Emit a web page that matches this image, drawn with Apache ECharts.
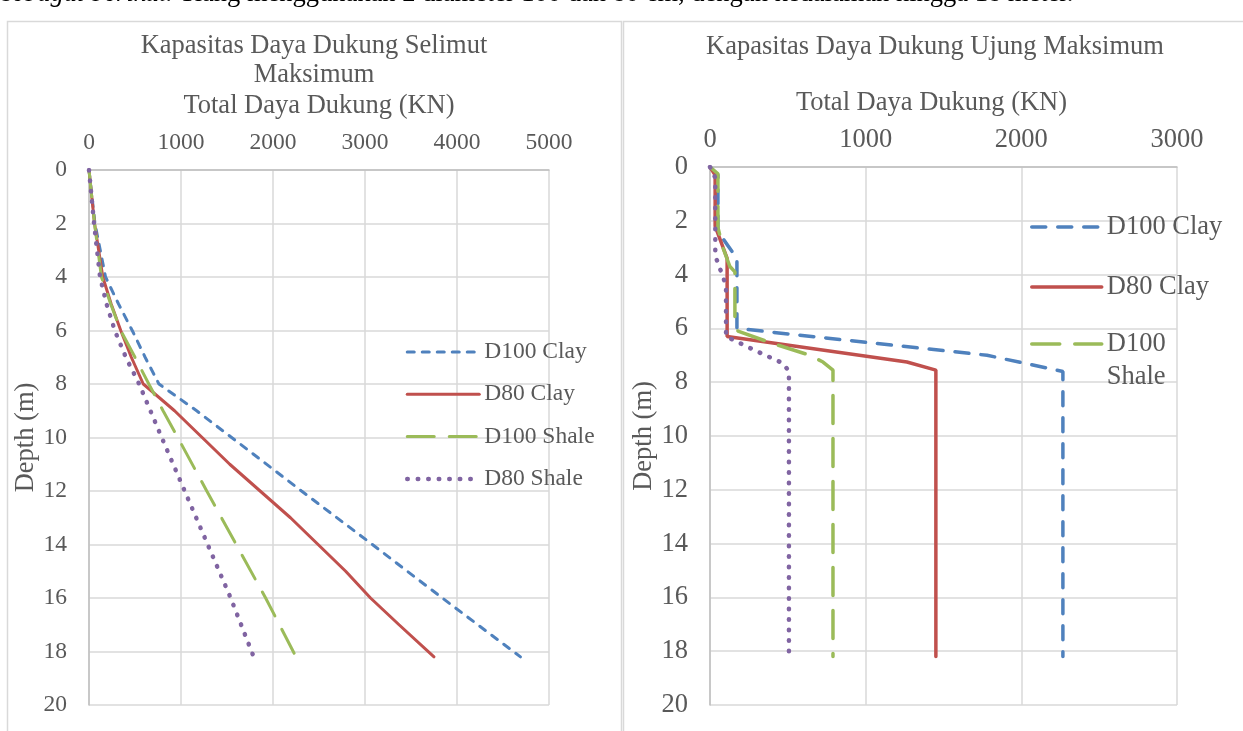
<!DOCTYPE html>
<html><head><meta charset="utf-8">
<script src="https://cdn.jsdelivr.net/npm/echarts@6/dist/echarts.min.js"></script>
<style>html,body{margin:0;padding:0;background:#fff;overflow:hidden}#c{width:1243px;height:731px}</style>
</head><body><div id="c"></div><script>
// ---------- data ----------
const depthTicks = [0, 2, 4, 6, 8, 10, 12, 14, 16, 18, 20];
const selimutTicks = [0, 1000, 2000, 3000, 4000, 5000];
const ujungTicks = [0, 1000, 2000, 3000];
const seriesNames = ['D100 Clay', 'D80 Clay', 'D100 Shale', 'D80 Shale'];

// Left: Kapasitas Daya Dukung Selimut Maksimum (KN vs depth m)
const selD100ClayDepth = [0, 2, 4, 5, 6, 7, 8, 9, 10, 12, 14, 16, 18.2];
const selD100ClayKN    = [0, 65, 180, 320, 470, 610, 760, 1170, 1550, 2310, 3080, 3840, 4690];
const selD80ClayDepth  = [0, 2, 4, 5, 6, 7, 8, 9, 10, 11, 12, 13, 14, 15, 16, 17, 18.2];
const selD80ClayKN     = [0, 60, 150, 240, 345, 460, 590, 930, 1230, 1530, 1860, 2190, 2490, 2790, 3060, 3370, 3750];
const selD100ShaleDepth = [0, 2, 4, 5, 6, 7, 8, 9, 10, 12, 14, 16, 18.2];
const selD100ShaleKN    = [0, 60, 135, 235, 345, 500, 650, 805, 965, 1280, 1600, 1920, 2250];
const selD80ShaleDepth  = [0, 2, 4, 5, 6, 7, 8, 10, 12, 14, 16, 18.2];
const selD80ShaleKN     = [0, 55, 120, 190, 280, 400, 545, 790, 1040, 1290, 1540, 1790];

// Right: Kapasitas Daya Dukung Ujung Maksimum (KN vs depth m)
const ujD100ClayDepth = [0, 0.3, 2.4, 3.4, 6.0, 7.0, 7.6, 18.2];
const ujD100ClayKN    = [0, 51, 51, 173, 173, 1780, 2267, 2267];
const ujD80ClayDepth  = [0, 0.3, 2.2, 3.4, 6.3, 7.25, 7.55, 18.2];
const ujD80ClayKN     = [0, 33, 33, 110, 110, 1265, 1451, 1451];
const ujD100ShaleDepth = [0, 0.25, 2.25, 3.0, 3.7, 3.9, 5.8, 6.1, 6.5, 7.0, 7.25, 7.55, 18.2];
const ujD100ShaleKN    = [0, 51, 51, 83, 128, 160, 160, 180, 372, 642, 726, 790, 790];
const ujD80ShaleDepth  = [0, 0.4, 2.5, 3.3, 4.4, 6.3, 6.85, 7.3, 7.6, 18.2];
const ujD80ShaleKN     = [0, 34, 34, 34, 103, 103, 300, 470, 507, 507];

// ---------- styling ----------
const FONT = '"Liberation Serif","Times New Roman",serif';
const TXT = '#595959';
const GRID = '#d9d9d9';
const AXIS = '#bfbfbf';
const COLORS = ['#4f81bd', '#c0504d', '#9bbb59', '#8064a2'];
const RIGHT_TAG = '\u200b';
const leftDash = [[7, 8], 'solid', [27, 15], [0.5, 10]];
const rightDash = [[14, 12], 'solid', [28, 15], [0.5, 10]];
const leftWidth = [3, 3, 3, 4.5];
const rightWidth = [3.5, 3.5, 3.5, 4.5];

function pairs(xs, ds) { return xs.map((v, i) => [v, ds[i]]); }

function xAxisCfg(idx, ticks, fs) {
  return {
    type: 'value', gridIndex: idx, position: 'top',
    min: ticks[0], max: ticks[ticks.length - 1], interval: ticks[1] - ticks[0],
    name: 'Total Daya Dukung (KN)', nameLocation: 'middle', nameGap: 50,
    nameTextStyle: { color: TXT, fontFamily: FONT, fontSize: 26.5, padding: idx === 0 ? 0 : [0, 24, 0, 0] },
    axisLine: { show: true, onZero: false, lineStyle: { color: AXIS, width: 1.5 } },
    axisTick: { show: false },
    axisLabel: { color: TXT, fontFamily: FONT, fontSize: fs, margin: idx === 0 ? 15 : 13, formatter: v => String(v) },
    splitLine: { show: true, lineStyle: { color: GRID, width: 1.5 } }
  };
}
function yAxisCfg(idx, fs, gap) {
  return {
    type: 'value', gridIndex: idx, inverse: true,
    min: depthTicks[0], max: depthTicks[depthTicks.length - 1], interval: depthTicks[1] - depthTicks[0],
    name: 'Depth (m)', nameLocation: 'middle', nameRotate: 90, nameGap: gap,
    nameTextStyle: { color: TXT, fontFamily: FONT, fontSize: 26.5 },
    axisLine: { show: true, onZero: false, lineStyle: { color: AXIS, width: 1.5 } },
    axisTick: { show: false },
    axisLabel: { color: TXT, fontFamily: FONT, fontSize: fs, margin: 22, formatter: v => String(v) },
    splitLine: { show: true, lineStyle: { color: GRID, width: 1.5 } }
  };
}
function lineSeries(name, idx, data, color, width, dash) {
  return {
    type: 'line', name, xAxisIndex: idx, yAxisIndex: idx, data,
    symbol: 'none', showSymbol: false, smooth: false, animation: false,
    lineStyle: { color, width, type: dash, cap: 'round' },
    itemStyle: { color },
    emphasis: { disabled: true }
  };
}
const hiddenSymbol = { color: 'rgba(0,0,0,0)', borderWidth: 0, opacity: 0 };
function legendItem(i, right) {
  return {
    name: seriesNames[i] + (right ? RIGHT_TAG : ''),
    itemStyle: hiddenSymbol,
    lineStyle: { color: COLORS[i], width: right ? rightWidth[i] : leftWidth[i],
                 type: right ? rightDash[i] : leftDash[i], cap: 'round', opacity: 1 }
  };
}

const selData = [pairs(selD100ClayKN, selD100ClayDepth), pairs(selD80ClayKN, selD80ClayDepth),
                 pairs(selD100ShaleKN, selD100ShaleDepth), pairs(selD80ShaleKN, selD80ShaleDepth)];
const ujData = [pairs(ujD100ClayKN, ujD100ClayDepth), pairs(ujD80ClayKN, ujD80ClayDepth),
                pairs(ujD100ShaleKN, ujD100ShaleDepth), pairs(ujD80ShaleKN, ujD80ShaleDepth)];

const chart = echarts.init(document.getElementById('c'), null, { renderer: 'canvas' });
chart.setOption({
  animation: false,
  backgroundColor: '#ffffff',
  textStyle: { fontFamily: FONT },
  grid: [
    { left: 89, top: 170, width: 460, height: 535, outerBoundsMode: 'none' },
    { left: 710, top: 167, width: 467, height: 538, outerBoundsMode: 'none' }
  ],
  xAxis: [xAxisCfg(0, selimutTicks, 23.5), xAxisCfg(1, ujungTicks, 26.5)],
  yAxis: [yAxisCfg(0, 23.5, 45), yAxisCfg(1, 26.5, 50)],
  legend: [
    {
      orient: 'vertical', left: 405, top: 338, padding: 0, itemWidth: 72, itemHeight: 14, itemGap: 14.3,
      data: [0, 1, 2, 3].map(i => legendItem(i, false)), selectedMode: false,
      itemStyle: hiddenSymbol, lineStyle: { cap: 'round' },
      textStyle: { color: TXT, fontFamily: FONT, fontSize: 23.5, lineHeight: 28 }
    },
    {
      orient: 'vertical', left: 1030, top: 212, padding: 0, itemWidth: 70, itemHeight: 14, itemGap: 30,
      data: [0, 1].map(i => legendItem(i, true)), selectedMode: false,
      itemStyle: hiddenSymbol, lineStyle: { cap: 'round' },
      formatter: n => n.replace(RIGHT_TAG, ''),
      textStyle: { color: TXT, fontFamily: FONT, fontSize: 26.5, lineHeight: 30 }
    },
    {
      orient: 'vertical', left: 1030, top: 294.5, padding: 0, itemWidth: 70, itemHeight: 14,
      data: [legendItem(2, true)], selectedMode: false,
      itemStyle: hiddenSymbol, lineStyle: { cap: 'round' },
      formatter: n => '\u00a0\n' + n.replace(RIGHT_TAG, '').replace(' ', '\n'),
      textStyle: { color: TXT, fontFamily: FONT, fontSize: 26.5, lineHeight: 33 }
    }
  ],
  graphic: [
    { type: 'rect', silent: true, shape: { x: 7.5, y: 21.5, width: 614, height: 740 },
      style: { fill: null, stroke: GRID, lineWidth: 1.5 } },
    { type: 'rect', silent: true, shape: { x: 623.5, y: 21.5, width: 640, height: 740 },
      style: { fill: null, stroke: GRID, lineWidth: 1.5 } },
    { type: 'text', silent: true, x: 2, y: -6,
      style: { text: '{i|sebagai berikut.} Tiang menggunakan 2 diameter 100 dan 80 cm, dengan kedalaman hingga 18 meter.',
        fill: '#000', font: '26.5px ' + FONT, textAlign: 'left', textVerticalAlign: 'middle',
        rich: { i: { fontStyle: 'italic', fontFamily: FONT, fontSize: 26.5, fill: '#000' } } } },
    { type: 'text', silent: true, x: 314, y: 46,
      style: { text: 'Kapasitas Daya Dukung Selimut', fill: TXT, font: '26.5px ' + FONT, textAlign: 'center', textVerticalAlign: 'middle' } },
    { type: 'text', silent: true, x: 314, y: 75,
      style: { text: 'Maksimum', fill: TXT, font: '26.5px ' + FONT, textAlign: 'center', textVerticalAlign: 'middle' } },
    { type: 'text', silent: true, x: 935, y: 47,
      style: { text: 'Kapasitas Daya Dukung Ujung Maksimum', fill: TXT, font: '26.5px ' + FONT, textAlign: 'center', textVerticalAlign: 'middle' } }
  ],
  series: [
    ...selData.map((d, i) => lineSeries(seriesNames[i], 0, d, COLORS[i], leftWidth[i], leftDash[i])),
    ...ujData.map((d, i) => lineSeries(seriesNames[i] + RIGHT_TAG, 1, d, COLORS[i], rightWidth[i], rightDash[i]))
  ]
});
</script></body></html>
